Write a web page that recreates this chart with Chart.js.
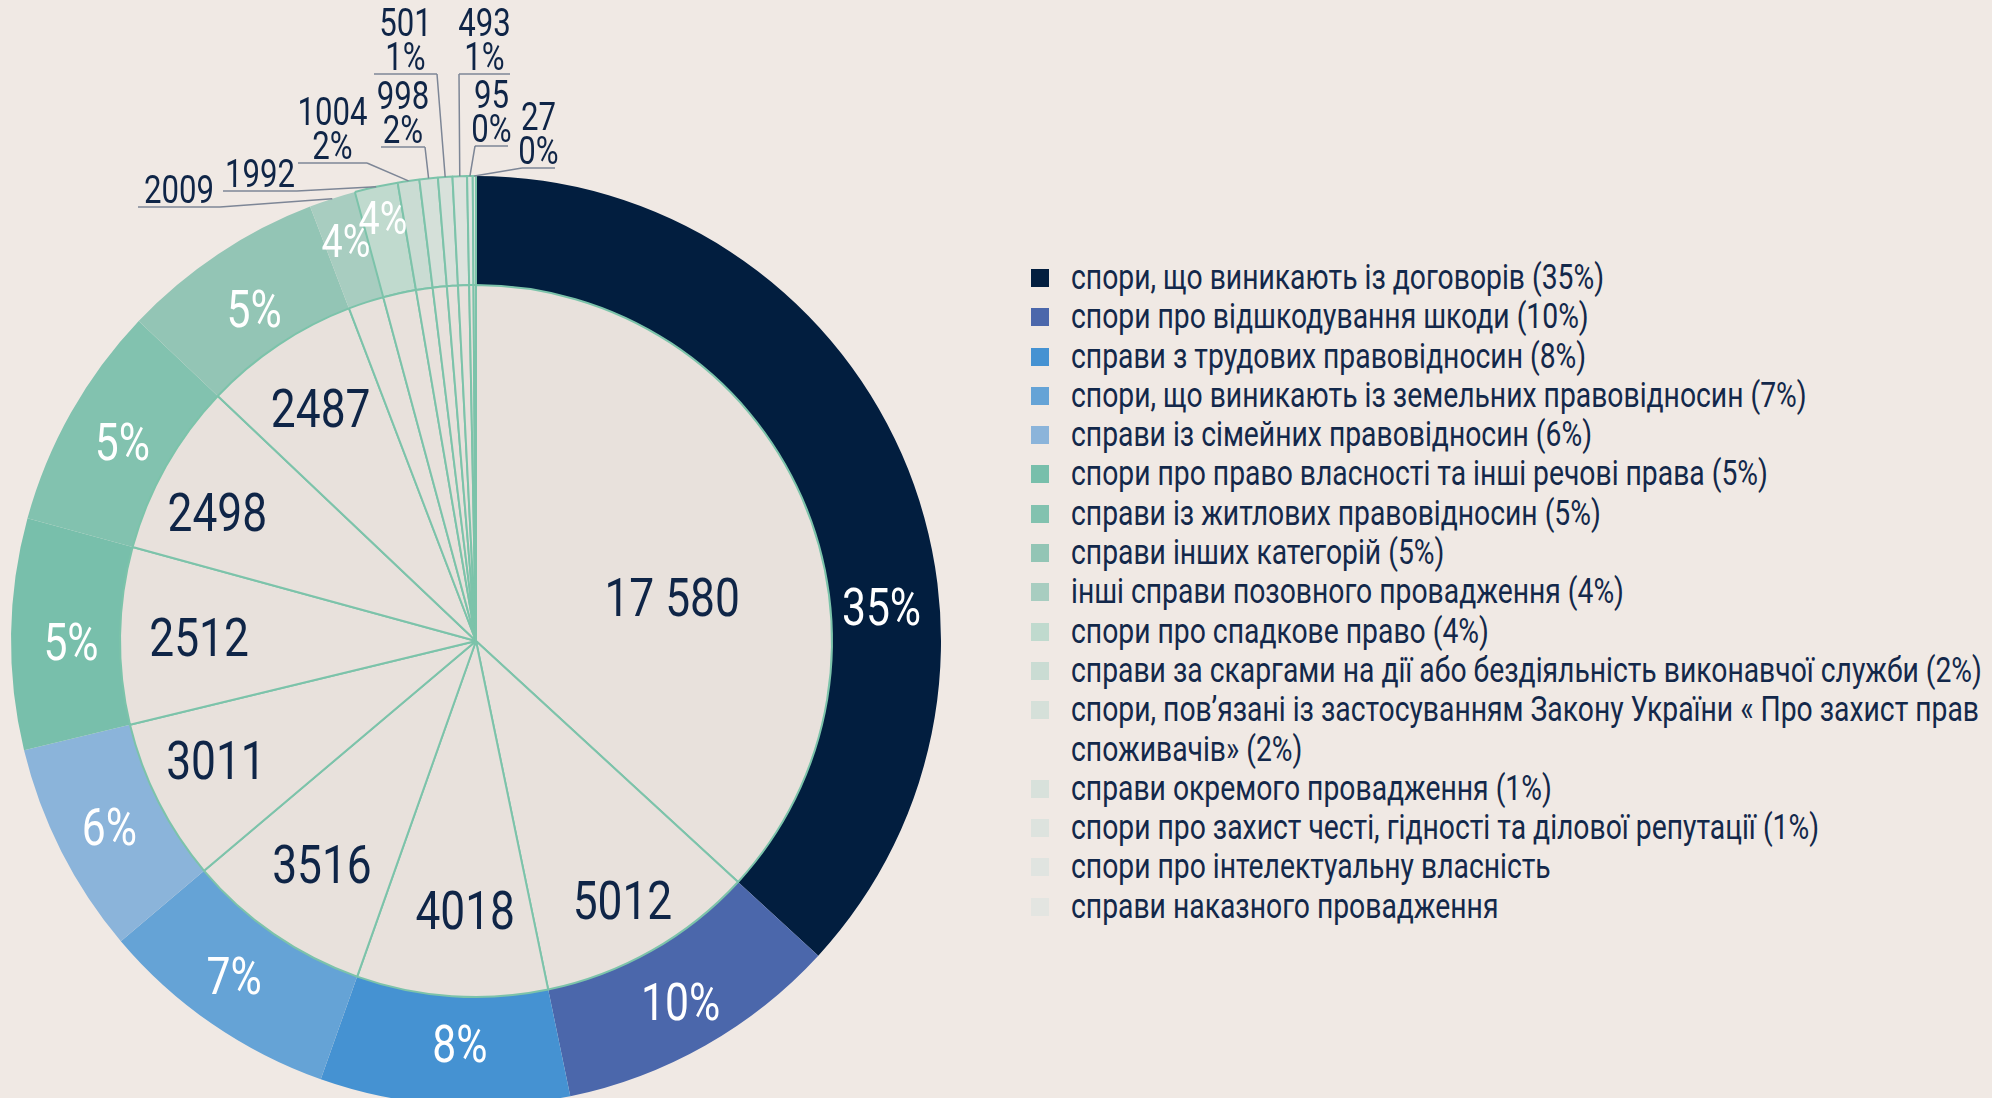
<!DOCTYPE html>
<html>
<head>
<meta charset="utf-8">
<script src="https://cdn.jsdelivr.net/npm/chart.js@4.4.0/dist/chart.umd.min.js"></script>
<style>
  html, body { margin: 0; padding: 0; background: #f0e9e4; width: 1992px; height: 1098px; overflow: hidden; }
  #pie { position: absolute; left: 0; top: 0; }
  #legend { position: absolute; left: 1031px; top: 258px; font-family: Roboto, sans-serif; font-size: 34.5px; color: #13284a; }
  .item { position: relative; height: 39.3px; line-height: 39.3px; padding-left: 40px; white-space: nowrap; }
  .sq { position: absolute; left: 0; top: 11px; width: 18px; height: 18px; }
  .txt { display: inline-block; transform-origin: 0 0; transform: scaleX(0.82); }
</style>
</head>
<body>
<canvas id="pie" width="1000" height="1130"></canvas>
<div id="legend"></div>

<script>
  // categories (legend order = slice order, clockwise from 12 o'clock)
  const categories = [
    "спори, що виникають із договорів (35%)",
    "спори про відшкодування шкоди (10%)",
    "справи з трудових правовідносин (8%)",
    "спори, що виникають із земельних правовідносин (7%)",
    "справи із сімейних правовідносин (6%)",
    "спори про право власності та інші речові права (5%)",
    "справи із житлових правовідносин (5%)",
    "справи інших категорій (5%)",
    "інші справи позовного провадження (4%)",
    "спори про спадкове право (4%)",
    "справи за скаргами на дії або бездіяльність виконавчої служби (2%)",
    ["спори, пов’язані із застосуванням Закону України « Про захист прав", "споживачів» (2%)"],
    "справи окремого провадження (1%)",
    "спори про захист честі, гідності та ділової репутації (1%)",
    "спори про інтелектуальну власність",
    "справи наказного провадження"
  ];
  const counts = [17580, 5012, 4018, 3516, 3011, 2512, 2498, 2487, 2009, 1992, 1004, 998, 501, 493, 95, 27];
  const percents = ["35%", "10%", "8%", "7%", "6%", "5%", "5%", "5%", "4%", "4%", "2%", "2%", "1%", "1%", "0%", "0%"];
  // slice sizes as they are drawn in the picture (degrees of the circle);
  // the reference does not draw its slices in proportion to the counts
  const sliceDegrees = [132.6, 35.7, 31.2, 30.3, 26.6, 28.9, 28.2, 25.6, 5.8, 5.4, 2.7, 2.3, 1.8, 1.8, 0.7, 0.4];

  const colors = ["#021e3f", "#4b67ab", "#4592d2", "#65a3d6", "#8bb4da", "#78bfab", "#82c2af", "#93c5b5",
                  "#a8cdc0", "#c0dace", "#cadcd3", "#d5e0d9", "#d8e1db", "#dde3de", "#e0e4e0", "#e3e5e1"];
  const teal = "#7cc3aa";
  const navy = "#0f2547";

  // label layout (px from centre / degrees clockwise from top)
  const innerLabelR = [201, 297, 269, 271, 286, 277, 289, 280];
  const innerLabelAngle = {0: 77.3, 2: 182.3, 4: 245.4, 6: 296.5};
  const outerLabelR = [407, 415, 403, 413, 411, 405, 406, 400, 421, 433];
  const outerLabelAngle = {0: 85.1, 2: 182.3, 3: 215.85, 5: 269.9};
  const outerLabelSize = [52, 52, 52, 52, 52, 52, 52, 52, 46, 46];
  // callout boxes for the thin slices: [left, right, underline y] relative to centre
  const calloutBox = {
    8: [-338, -256, -434],
    9: [-253, -179, -450],
    10: [-178, -109, -478],
    11: [-95, -51, -494],
    12: [-102, -39, -567],
    13: [-17, 34, -567],
    14: [-1, 32, -495],
    15: [46, 79, -473]
  };

  function fmt(n) {
    return n >= 10000 ? String(n).replace(/\B(?=(\d{3})+(?!\d))/g, " ") : String(n);
  }

  function drawText(ctx, str, x, y, size, color, baseline) {
    ctx.save();
    ctx.font = size + "px Roboto";
    ctx.fillStyle = color;
    ctx.textAlign = "center";
    ctx.textBaseline = "alphabetic";
    ctx.translate(x, y);
    ctx.scale(0.82, 1);
    ctx.fillText(str, 0, baseline ? 0 : 0.355 * size);
    ctx.restore();
  }

  function polar(arc, r, deg) {
    const a = deg != null ? (deg - 90) * Math.PI / 180 : (arc.startAngle + arc.endAngle) / 2;
    return [arc.x + Math.cos(a) * r, arc.y + Math.sin(a) * r];
  }

  const sliceLabels = {
    id: "sliceLabels",
    afterDatasetsDraw(chart) {
      const ctx = chart.ctx;
      const ring = chart.getDatasetMeta(0).data;
      const core = chart.getDatasetMeta(1).data;

      // numbers in the inner pie
      innerLabelR.forEach((r, i) => {
        const p = polar(core[i], r, innerLabelAngle[i]);
        drawText(ctx, fmt(counts[i]), p[0], p[1], 54, navy);
      });

      // percentages on the ring
      outerLabelR.forEach((r, i) => {
        const p = polar(ring[i], r, outerLabelAngle[i]);
        drawText(ctx, percents[i], p[0], p[1], outerLabelSize[i], "#ffffff");
      });

      // callouts for the thin slices
      ctx.save();
      ctx.strokeStyle = "#7d8696";
      ctx.lineWidth = 1.5;
      for (const key in calloutBox) {
        const i = Number(key);
        const arc = ring[i];
        const [l, rgt, y] = calloutBox[i];
        const cx = arc.x, cy = arc.y;
        const anchor = polar(arc, arc.outerRadius, null);
        let nx = cx + rgt;
        if (anchor[0] < cx + l || (anchor[0] <= cx + rgt && anchor[0] - (cx + l) < (cx + rgt) - anchor[0])) nx = cx + l;
        ctx.beginPath();
        ctx.moveTo(cx + l, cy + y);
        ctx.lineTo(cx + rgt, cy + y);
        ctx.moveTo(nx, cy + y);
        ctx.lineTo(anchor[0], anchor[1]);
        ctx.stroke();

        const lines = i >= 10 ? [String(counts[i]), percents[i]] : [String(counts[i])];
        const mid = cx + (l + rgt) / 2;
        lines.forEach((t, k) => {
          const base = cy + y - 4 - (lines.length - 1 - k) * 34;
          drawText(ctx, t, mid, base, 38, navy, true);
        });
      }
      ctx.restore();
    }
  };

  new Chart("pie", {
    type: "pie",
    data: {
      labels: categories,
      datasets: [
        {
          data: sliceDegrees,
          backgroundColor: colors,
          borderColor: teal,
          borderWidth: colors.map((c, i) => i >= 9 ? 2 : 0),
          weight: 109,
          order: 1
        },
        {
          data: sliceDegrees,
          backgroundColor: "#e8e1dc",
          borderColor: teal,
          borderWidth: 2,
          weight: 356,
          order: 0
        }
      ]
    },
    options: {
      responsive: false,
      animation: false,
      events: [],
      radius: 465,
      hoverOffset: 0,
      layout: { padding: { left: 11, top: 176, right: 59, bottom: 24 } },
      plugins: { legend: { display: false }, tooltip: { enabled: false } }
    },
    plugins: [sliceLabels]
  });

  // legend
  const legend = document.getElementById("legend");
  categories.forEach((label, i) => {
    const item = document.createElement("div");
    item.className = "item";
    const lines = Array.isArray(label) ? label : [label];
    item.style.height = (39.3 * lines.length) + "px";
    const sq = document.createElement("span");
    sq.className = "sq";
    sq.style.background = colors[i];
    const txt = document.createElement("span");
    txt.className = "txt";
    txt.innerHTML = lines.join("<br>");
    item.appendChild(sq);
    item.appendChild(txt);
    legend.appendChild(item);
  });
</script>
</body>
</html>
